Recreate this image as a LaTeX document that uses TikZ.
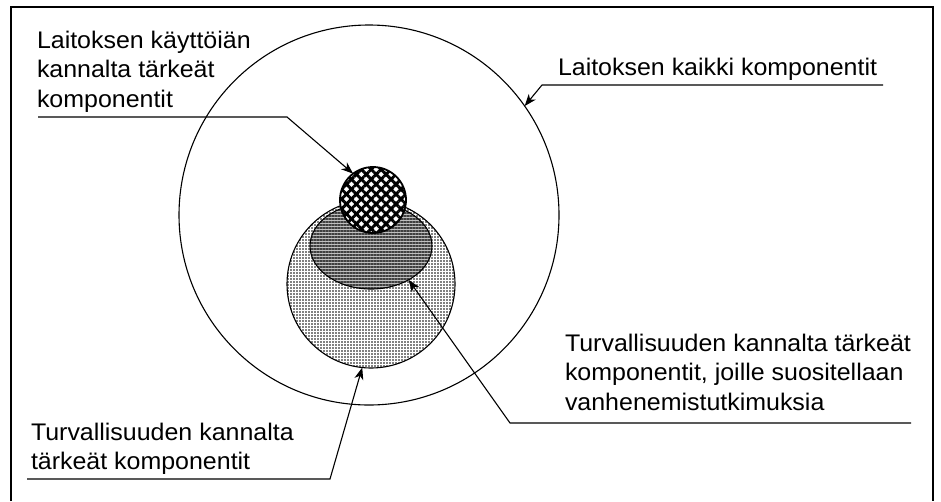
\documentclass[tikz,border=0pt]{standalone}
\usepackage{fontspec}
\setmainfont{Liberation Sans}[FakeStretch=1.04]
\usetikzlibrary{shapes.geometric,patterns.meta,arrows.meta}
\begin{document}
\begin{tikzpicture}[x=1pt,y=-1pt,
  lbl/.style={anchor=north west, inner sep=0pt, outer sep=0pt, align=left,
              font=\fontsize{24}{29.5}\selectfont},
  conn/.style={line width=1.1pt, -{Stealth[length=12pt,width=9pt,inset=3.5pt]}},
  ring/.style={draw, line width=1.1pt, inner sep=0pt, outer sep=0pt}]
\useasboundingbox (0,0) rectangle (941,501);
% frame (open at the bottom)
\draw[line width=1.5pt] (11,501) -- (11,7) -- (933,7) -- (933,501);

% circles
\node[ring, circle, minimum size=380pt] (big) at (369,215) {};
\node[ring, circle, minimum size=168pt, preaction={fill=white},
      pattern={Dots[distance=3pt, radius=0.8pt]}, pattern color=black] (dotc) at (371,284) {};
\node[ring, ellipse, minimum width=122pt, minimum height=86pt,
      preaction={fill=black!25},
      pattern={Lines[angle=0, distance=3pt, line width=1.3pt]}, pattern color=black!75] (ell) at (371,246) {};
\node[ring, circle, line width=1.8pt, minimum size=66pt,
      preaction={fill=white},
      postaction={pattern={Lines[angle=45, distance=7pt, line width=2.9pt]}},
      pattern={Lines[angle=-45, distance=7pt, line width=2.9pt]}] (hatch) at (373,200) {};

% labels
\node[lbl] (l1) at (37,30.7) {Laitoksen käyttöiän\\kannalta tärkeät\\komponentit};
\node[lbl] (l2) at (558,57.7) {Laitoksen kaikki komponentit};
\node[lbl] (l3) at (565,333.7) {Turvallisuuden kannalta tärkeät\\komponentit, joille suositellaan\\vanhenemistutkimuksia};
\node[lbl] (l4) at (31,422.7) {Turvallisuuden kannalta\\tärkeät komponentit};

% underline end points
\coordinate (u1s) at (38,117);  \coordinate (u1e) at (287,117);
\coordinate (u2s) at (883,85);  \coordinate (u2e) at (542,85);
\coordinate (u3s) at (911,423); \coordinate (u3e) at (510,423);
\coordinate (u4s) at (27,479);  \coordinate (u4e) at (330,479);

% connectors
\draw[conn] (u1s) -- (u1e) -- (hatch.127);
\draw[conn] (u2s) -- (u2e) -- (big.35);
\draw[conn] (u3s) -- (u3e) -- (ell.-42);
\draw[conn] (u4s) -- (u4e) -- (dotc.-96);
\end{tikzpicture}
\end{document}
